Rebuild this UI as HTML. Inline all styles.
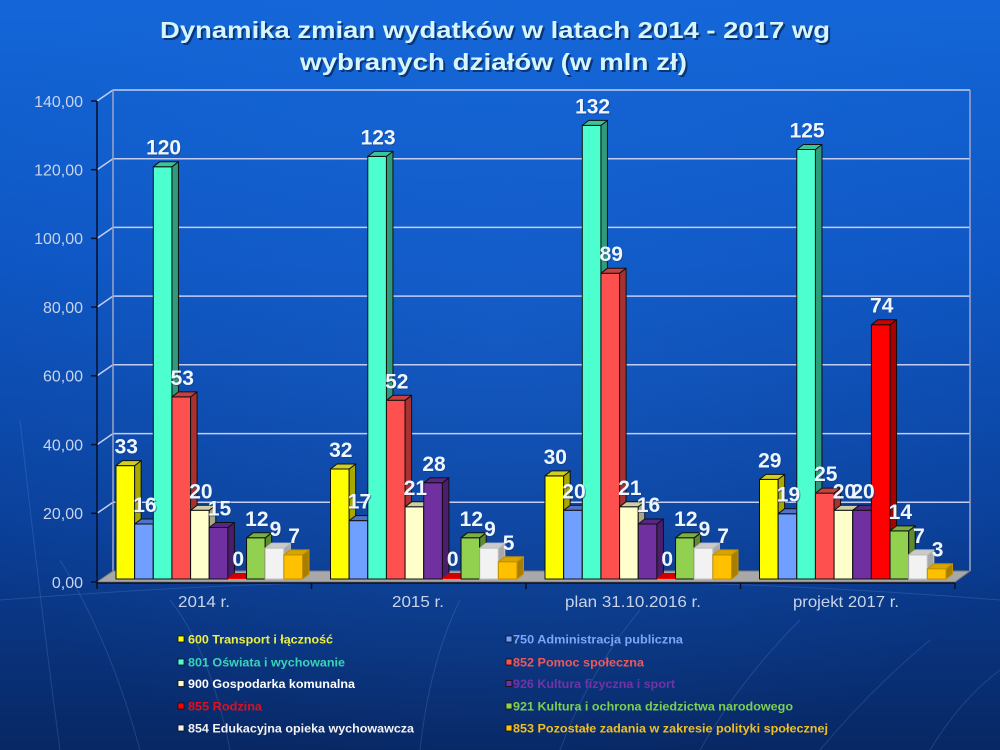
<!DOCTYPE html>
<html><head><meta charset="utf-8">
<style>
html,body{margin:0;padding:0;width:1000px;height:750px;overflow:hidden;background:#0a3c90;}
svg{display:block;}
</style></head>
<body>
<svg width="1000" height="750" viewBox="0 0 1000 750" xmlns="http://www.w3.org/2000/svg" font-family="'Liberation Sans', Arial, sans-serif">
<defs>
<linearGradient id="bg" x1="0" y1="0" x2="0" y2="1">
<stop offset="0" stop-color="#1466d8"/>
<stop offset="0.35" stop-color="#0d55c2"/>
<stop offset="0.7" stop-color="#0a3f98"/>
<stop offset="1" stop-color="#082763"/>
</linearGradient>
<radialGradient id="glow" cx="0.5" cy="0.45" r="0.6">
<stop offset="0" stop-color="#2a7ae8" stop-opacity="0.25"/>
<stop offset="1" stop-color="#2a7ae8" stop-opacity="0"/>
</radialGradient>
</defs>
<rect x="0" y="0" width="1000" height="750" fill="url(#bg)"/>
<rect x="0" y="0" width="1000" height="750" fill="url(#glow)"/>
<!-- decorative faint curves -->
<g fill="none" stroke="#8fb4ff" stroke-opacity="0.18" stroke-width="1">
<path d="M60 750 Q 40 600 20 420"/>
<path d="M140 750 Q 110 640 60 560"/>
<path d="M230 750 Q 210 650 170 600"/>
<path d="M420 750 Q 430 660 460 600"/>
<path d="M560 750 Q 590 670 640 610"/>
<path d="M700 750 Q 740 680 800 620"/>
<path d="M820 750 Q 870 690 930 640"/>
<path d="M930 750 Q 960 700 1000 670"/>
<path d="M0 600 Q 500 560 1000 600"/>
</g>

<!-- title -->
<g font-weight="bold" font-size="23">
<text x="162" y="40" textLength="670" lengthAdjust="spacingAndGlyphs" fill="#0a2a60" opacity="0.8">Dynamika zmian wydatków w latach 2014 - 2017 wg</text>
<text x="160" y="38" textLength="670" lengthAdjust="spacingAndGlyphs" fill="#d6f6ff">Dynamika zmian wydatków w latach 2014 - 2017 wg</text>
<text x="302" y="72" textLength="387" lengthAdjust="spacingAndGlyphs" fill="#0a2a60" opacity="0.8">wybranych działów (w mln zł)</text>
<text x="300" y="70" textLength="387" lengthAdjust="spacingAndGlyphs" fill="#d6f6ff">wybranych działów (w mln zł)</text>
</g>

<!-- walls / grid -->
<g stroke="#c4cdf2" stroke-width="1.5" fill="none">
<line x1="113" y1="90" x2="970" y2="90"/>
<line x1="113" y1="158.7" x2="970" y2="158.7"/>
<line x1="113" y1="227.4" x2="970" y2="227.4"/>
<line x1="113" y1="296.1" x2="970" y2="296.1"/>
<line x1="113" y1="364.8" x2="970" y2="364.8"/>
<line x1="113" y1="433.6" x2="970" y2="433.6"/>
<line x1="113" y1="502.3" x2="970" y2="502.3"/>
<line x1="97" y1="101" x2="113" y2="90"/>
<line x1="97" y1="169.7" x2="113" y2="158.7"/>
<line x1="97" y1="238.4" x2="113" y2="227.4"/>
<line x1="97" y1="307.1" x2="113" y2="296.1"/>
<line x1="97" y1="375.8" x2="113" y2="364.8"/>
<line x1="97" y1="444.6" x2="113" y2="433.6"/>
<line x1="97" y1="513.3" x2="113" y2="502.3"/>
</g>
<g stroke="#9aa6c8" stroke-width="1.5">
<line x1="113" y1="90" x2="113" y2="571"/>
<line x1="970" y1="90" x2="970" y2="571"/>
</g>
<!-- floor -->
<polygon points="97,582 955,582 970,571 113,571" fill="#a8a8a8" stroke="#7a7a7a" stroke-width="1"/>

<!-- axes -->
<g stroke="#0a0f25" stroke-width="1.5">
<line x1="97" y1="101" x2="97" y2="583"/>
<line x1="97" y1="583" x2="955" y2="583"/>
<line x1="91" y1="101" x2="97" y2="101"/>
<line x1="91" y1="169.7" x2="97" y2="169.7"/>
<line x1="91" y1="238.4" x2="97" y2="238.4"/>
<line x1="91" y1="307.1" x2="97" y2="307.1"/>
<line x1="91" y1="375.8" x2="97" y2="375.8"/>
<line x1="91" y1="444.6" x2="97" y2="444.6"/>
<line x1="91" y1="513.3" x2="97" y2="513.3"/>
<line x1="91" y1="582" x2="97" y2="582"/>
<line x1="97" y1="583" x2="97" y2="589"/>
<line x1="311.5" y1="583" x2="311.5" y2="589"/>
<line x1="526" y1="583" x2="526" y2="589"/>
<line x1="740.5" y1="583" x2="740.5" y2="589"/>
<line x1="955" y1="583" x2="955" y2="589"/>
</g>

<!-- y labels -->
<g font-size="16" fill="#c8d4ea" text-anchor="end">
<text x="83" y="107">140,00</text>
<text x="83" y="175.5">120,00</text>
<text x="83" y="244">100,00</text>
<text x="83" y="313">80,00</text>
<text x="83" y="381.5">60,00</text>
<text x="83" y="450.5">40,00</text>
<text x="83" y="519">20,00</text>
<text x="83" y="588">0,00</text>
</g>

<!-- category labels -->
<g font-size="16" fill="#c8d4ea">
<text x="178" y="607" textLength="52" lengthAdjust="spacingAndGlyphs">2014 r.</text>
<text x="392" y="607" textLength="52" lengthAdjust="spacingAndGlyphs">2015 r.</text>
<text x="565" y="607" textLength="136" lengthAdjust="spacingAndGlyphs">plan 31.10.2016 r.</text>
<text x="793" y="607" textLength="106" lengthAdjust="spacingAndGlyphs">projekt 2017 r.</text>
</g>

<!-- bars -->
<g stroke="#101010" stroke-width="1" stroke-linejoin="round">
<!-- 2014 -->
<g transform="translate(116,579)"><rect x="0" y="-113.4" width="18.65" height="113.4" fill="#ffff00"/><polygon points="18.65,0 25.15,-5 25.15,-118.4 18.65,-113.4" fill="#a8a800"/><polygon points="0,-113.4 6.5,-118.4 25.15,-118.4 18.65,-113.4" fill="#d0d020"/></g>
<g transform="translate(134.65,579)"><rect x="0" y="-55" width="18.65" height="55" fill="#6f9fff"/><polygon points="18.65,0 25.15,-5 25.15,-60 18.65,-55" fill="#3d5fb0"/><polygon points="0,-55 6.5,-60 25.15,-60 18.65,-55" fill="#5072c8"/></g>
<g transform="translate(153.3,579)"><rect x="0" y="-412.3" width="18.65" height="412.3" fill="#4dffcf"/><polygon points="18.65,0 25.15,-5 25.15,-417.3 18.65,-412.3" fill="#2f9a7c"/><polygon points="0,-412.3 6.5,-417.3 25.15,-417.3 18.65,-412.3" fill="#38c49c"/></g>
<g transform="translate(171.95,579)"><rect x="0" y="-182.1" width="18.65" height="182.1" fill="#ff5050"/><polygon points="18.65,0 25.15,-5 25.15,-187.1 18.65,-182.1" fill="#a83232"/><polygon points="0,-182.1 6.5,-187.1 25.15,-187.1 18.65,-182.1" fill="#c84040"/></g>
<g transform="translate(190.6,579)"><rect x="0" y="-68.7" width="18.65" height="68.7" fill="#ffffcc"/><polygon points="18.65,0 25.15,-5 25.15,-73.7 18.65,-68.7" fill="#aaa888"/><polygon points="0,-68.7 6.5,-73.7 25.15,-73.7 18.65,-68.7" fill="#d0cea4"/></g>
<g transform="translate(209.25,579)"><rect x="0" y="-51.5" width="18.65" height="51.5" fill="#7030a0"/><polygon points="18.65,0 25.15,-5 25.15,-56.5 18.65,-51.5" fill="#4a1e6c"/><polygon points="0,-51.5 6.5,-56.5 25.15,-56.5 18.65,-51.5" fill="#5a2686"/></g>
<g transform="translate(227.9,579)"><rect x="0" y="-1" width="18.65" height="1" fill="#ff0000" stroke="none"/><polygon points="0,-1 6.5,-6 25.15,-6 18.65,-1" fill="#d00000" stroke="none"/></g>
<g transform="translate(246.55,579)"><rect x="0" y="-41.2" width="18.65" height="41.2" fill="#92d050"/><polygon points="18.65,0 25.15,-5 25.15,-46.2 18.65,-41.2" fill="#5e8a32"/><polygon points="0,-41.2 6.5,-46.2 25.15,-46.2 18.65,-41.2" fill="#78ae42"/></g>
<g transform="translate(265.2,579)"><rect x="0" y="-30.9" width="18.65" height="30.9" fill="#f2f2f2" stroke="#c0c0c0"/><polygon points="18.65,0 25.15,-5 25.15,-35.9 18.65,-30.9" fill="#a8a8a8" stroke="#c0c0c0"/><polygon points="0,-30.9 6.5,-35.9 25.15,-35.9 18.65,-30.9" fill="#cacaca" stroke="#c0c0c0"/></g>
<g transform="translate(283.85,579)"><rect x="0" y="-24.1" width="18.65" height="24.1" fill="#ffc000" stroke="#c09000"/><polygon points="18.65,0 25.15,-5 25.15,-29.1 18.65,-24.1" fill="#a87e00" stroke="#c09000"/><polygon points="0,-24.1 6.5,-29.1 25.15,-29.1 18.65,-24.1" fill="#d8a400" stroke="#c09000"/></g>
<!-- 2015 -->
<g transform="translate(330.5,579)"><rect x="0" y="-110" width="18.65" height="110" fill="#ffff00"/><polygon points="18.65,0 25.15,-5 25.15,-115 18.65,-110" fill="#a8a800"/><polygon points="0,-110 6.5,-115 25.15,-115 18.65,-110" fill="#d0d020"/></g>
<g transform="translate(349.15,579)"><rect x="0" y="-58.4" width="18.65" height="58.4" fill="#6f9fff"/><polygon points="18.65,0 25.15,-5 25.15,-63.4 18.65,-58.4" fill="#3d5fb0"/><polygon points="0,-58.4 6.5,-63.4 25.15,-63.4 18.65,-58.4" fill="#5072c8"/></g>
<g transform="translate(367.8,579)"><rect x="0" y="-422.6" width="18.65" height="422.6" fill="#4dffcf"/><polygon points="18.65,0 25.15,-5 25.15,-427.6 18.65,-422.6" fill="#2f9a7c"/><polygon points="0,-422.6 6.5,-427.6 25.15,-427.6 18.65,-422.6" fill="#38c49c"/></g>
<g transform="translate(386.45,579)"><rect x="0" y="-178.7" width="18.65" height="178.7" fill="#ff5050"/><polygon points="18.65,0 25.15,-5 25.15,-183.7 18.65,-178.7" fill="#a83232"/><polygon points="0,-178.7 6.5,-183.7 25.15,-183.7 18.65,-178.7" fill="#c84040"/></g>
<g transform="translate(405.1,579)"><rect x="0" y="-72.2" width="18.65" height="72.2" fill="#ffffcc"/><polygon points="18.65,0 25.15,-5 25.15,-77.2 18.65,-72.2" fill="#aaa888"/><polygon points="0,-72.2 6.5,-77.2 25.15,-77.2 18.65,-72.2" fill="#d0cea4"/></g>
<g transform="translate(423.75,579)"><rect x="0" y="-96.2" width="18.65" height="96.2" fill="#7030a0"/><polygon points="18.65,0 25.15,-5 25.15,-101.2 18.65,-96.2" fill="#4a1e6c"/><polygon points="0,-96.2 6.5,-101.2 25.15,-101.2 18.65,-96.2" fill="#5a2686"/></g>
<g transform="translate(442.4,579)"><rect x="0" y="-1" width="18.65" height="1" fill="#ff0000" stroke="none"/><polygon points="0,-1 6.5,-6 25.15,-6 18.65,-1" fill="#d00000" stroke="none"/></g>
<g transform="translate(461.05,579)"><rect x="0" y="-41.2" width="18.65" height="41.2" fill="#92d050"/><polygon points="18.65,0 25.15,-5 25.15,-46.2 18.65,-41.2" fill="#5e8a32"/><polygon points="0,-41.2 6.5,-46.2 25.15,-46.2 18.65,-41.2" fill="#78ae42"/></g>
<g transform="translate(479.7,579)"><rect x="0" y="-30.9" width="18.65" height="30.9" fill="#f2f2f2" stroke="#c0c0c0"/><polygon points="18.65,0 25.15,-5 25.15,-35.9 18.65,-30.9" fill="#a8a8a8" stroke="#c0c0c0"/><polygon points="0,-30.9 6.5,-35.9 25.15,-35.9 18.65,-30.9" fill="#cacaca" stroke="#c0c0c0"/></g>
<g transform="translate(498.35,579)"><rect x="0" y="-17.2" width="18.65" height="17.2" fill="#ffc000" stroke="#c09000"/><polygon points="18.65,0 25.15,-5 25.15,-22.2 18.65,-17.2" fill="#a87e00" stroke="#c09000"/><polygon points="0,-17.2 6.5,-22.2 25.15,-22.2 18.65,-17.2" fill="#d8a400" stroke="#c09000"/></g>
<!-- 2016 -->
<g transform="translate(545,579)"><rect x="0" y="-103.1" width="18.65" height="103.1" fill="#ffff00"/><polygon points="18.65,0 25.15,-5 25.15,-108.1 18.65,-103.1" fill="#a8a800"/><polygon points="0,-103.1 6.5,-108.1 25.15,-108.1 18.65,-103.1" fill="#d0d020"/></g>
<g transform="translate(563.65,579)"><rect x="0" y="-68.7" width="18.65" height="68.7" fill="#6f9fff"/><polygon points="18.65,0 25.15,-5 25.15,-73.7 18.65,-68.7" fill="#3d5fb0"/><polygon points="0,-68.7 6.5,-73.7 25.15,-73.7 18.65,-68.7" fill="#5072c8"/></g>
<g transform="translate(582.3,579)"><rect x="0" y="-453.6" width="18.65" height="453.6" fill="#4dffcf"/><polygon points="18.65,0 25.15,-5 25.15,-458.6 18.65,-453.6" fill="#2f9a7c"/><polygon points="0,-453.6 6.5,-458.6 25.15,-458.6 18.65,-453.6" fill="#38c49c"/></g>
<g transform="translate(600.95,579)"><rect x="0" y="-305.8" width="18.65" height="305.8" fill="#ff5050"/><polygon points="18.65,0 25.15,-5 25.15,-310.8 18.65,-305.8" fill="#a83232"/><polygon points="0,-305.8 6.5,-310.8 25.15,-310.8 18.65,-305.8" fill="#c84040"/></g>
<g transform="translate(619.6,579)"><rect x="0" y="-72.2" width="18.65" height="72.2" fill="#ffffcc"/><polygon points="18.65,0 25.15,-5 25.15,-77.2 18.65,-72.2" fill="#aaa888"/><polygon points="0,-72.2 6.5,-77.2 25.15,-77.2 18.65,-72.2" fill="#d0cea4"/></g>
<g transform="translate(638.25,579)"><rect x="0" y="-55" width="18.65" height="55" fill="#7030a0"/><polygon points="18.65,0 25.15,-5 25.15,-60 18.65,-55" fill="#4a1e6c"/><polygon points="0,-55 6.5,-60 25.15,-60 18.65,-55" fill="#5a2686"/></g>
<g transform="translate(656.9,579)"><rect x="0" y="-1" width="18.65" height="1" fill="#ff0000" stroke="none"/><polygon points="0,-1 6.5,-6 25.15,-6 18.65,-1" fill="#d00000" stroke="none"/></g>
<g transform="translate(675.55,579)"><rect x="0" y="-41.2" width="18.65" height="41.2" fill="#92d050"/><polygon points="18.65,0 25.15,-5 25.15,-46.2 18.65,-41.2" fill="#5e8a32"/><polygon points="0,-41.2 6.5,-46.2 25.15,-46.2 18.65,-41.2" fill="#78ae42"/></g>
<g transform="translate(694.2,579)"><rect x="0" y="-30.9" width="18.65" height="30.9" fill="#f2f2f2" stroke="#c0c0c0"/><polygon points="18.65,0 25.15,-5 25.15,-35.9 18.65,-30.9" fill="#a8a8a8" stroke="#c0c0c0"/><polygon points="0,-30.9 6.5,-35.9 25.15,-35.9 18.65,-30.9" fill="#cacaca" stroke="#c0c0c0"/></g>
<g transform="translate(712.85,579)"><rect x="0" y="-24.1" width="18.65" height="24.1" fill="#ffc000" stroke="#c09000"/><polygon points="18.65,0 25.15,-5 25.15,-29.1 18.65,-24.1" fill="#a87e00" stroke="#c09000"/><polygon points="0,-24.1 6.5,-29.1 25.15,-29.1 18.65,-24.1" fill="#d8a400" stroke="#c09000"/></g>
<!-- 2017 -->
<g transform="translate(759.5,579)"><rect x="0" y="-99.6" width="18.65" height="99.6" fill="#ffff00"/><polygon points="18.65,0 25.15,-5 25.15,-104.6 18.65,-99.6" fill="#a8a800"/><polygon points="0,-99.6 6.5,-104.6 25.15,-104.6 18.65,-99.6" fill="#d0d020"/></g>
<g transform="translate(778.15,579)"><rect x="0" y="-65.3" width="18.65" height="65.3" fill="#6f9fff"/><polygon points="18.65,0 25.15,-5 25.15,-70.3 18.65,-65.3" fill="#3d5fb0"/><polygon points="0,-65.3 6.5,-70.3 25.15,-70.3 18.65,-65.3" fill="#5072c8"/></g>
<g transform="translate(796.8,579)"><rect x="0" y="-429.5" width="18.65" height="429.5" fill="#4dffcf"/><polygon points="18.65,0 25.15,-5 25.15,-434.5 18.65,-429.5" fill="#2f9a7c"/><polygon points="0,-429.5 6.5,-434.5 25.15,-434.5 18.65,-429.5" fill="#38c49c"/></g>
<g transform="translate(815.45,579)"><rect x="0" y="-85.9" width="18.65" height="85.9" fill="#ff5050"/><polygon points="18.65,0 25.15,-5 25.15,-90.9 18.65,-85.9" fill="#a83232"/><polygon points="0,-85.9 6.5,-90.9 25.15,-90.9 18.65,-85.9" fill="#c84040"/></g>
<g transform="translate(834.1,579)"><rect x="0" y="-68.7" width="18.65" height="68.7" fill="#ffffcc"/><polygon points="18.65,0 25.15,-5 25.15,-73.7 18.65,-68.7" fill="#aaa888"/><polygon points="0,-68.7 6.5,-73.7 25.15,-73.7 18.65,-68.7" fill="#d0cea4"/></g>
<g transform="translate(852.75,579)"><rect x="0" y="-68.7" width="18.65" height="68.7" fill="#7030a0"/><polygon points="18.65,0 25.15,-5 25.15,-73.7 18.65,-68.7" fill="#4a1e6c"/><polygon points="0,-68.7 6.5,-73.7 25.15,-73.7 18.65,-68.7" fill="#5a2686"/></g>
<g transform="translate(871.4,579)"><rect x="0" y="-254.3" width="18.65" height="254.3" fill="#ff0000"/><polygon points="18.65,0 25.15,-5 25.15,-259.3 18.65,-254.3" fill="#a80000"/><polygon points="0,-254.3 6.5,-259.3 25.15,-259.3 18.65,-254.3" fill="#d00000"/></g>
<g transform="translate(890.05,579)"><rect x="0" y="-48.1" width="18.65" height="48.1" fill="#92d050"/><polygon points="18.65,0 25.15,-5 25.15,-53.1 18.65,-48.1" fill="#5e8a32"/><polygon points="0,-48.1 6.5,-53.1 25.15,-53.1 18.65,-48.1" fill="#78ae42"/></g>
<g transform="translate(908.7,579)"><rect x="0" y="-24.1" width="18.65" height="24.1" fill="#f2f2f2" stroke="#c0c0c0"/><polygon points="18.65,0 25.15,-5 25.15,-29.1 18.65,-24.1" fill="#a8a8a8" stroke="#c0c0c0"/><polygon points="0,-24.1 6.5,-29.1 25.15,-29.1 18.65,-24.1" fill="#cacaca" stroke="#c0c0c0"/></g>
<g transform="translate(927.35,579)"><rect x="0" y="-10.3" width="18.65" height="10.3" fill="#ffc000" stroke="#c09000"/><polygon points="18.65,0 25.15,-5 25.15,-15.3 18.65,-10.3" fill="#a87e00" stroke="#c09000"/><polygon points="0,-10.3 6.5,-15.3 25.15,-15.3 18.65,-10.3" fill="#d8a400" stroke="#c09000"/></g>
</g>

<!-- value labels -->
<g font-size="21" font-weight="bold" text-anchor="middle">
<g fill="#1a3a78" opacity="0.55" transform="translate(1,1)">
<text x="126.3" y="453.6">33</text><text x="144.95" y="512">16</text><text x="163.6" y="154.7">120</text><text x="182.25" y="384.9">53</text><text x="200.9" y="498.3">20</text><text x="219.55" y="515.5">15</text><text x="238.2" y="566">0</text><text x="256.85" y="525.8">12</text><text x="275.5" y="536.1">9</text><text x="294.15" y="542.9">7</text>
<text x="340.8" y="457">32</text><text x="359.45" y="508.6">17</text><text x="378.1" y="144.4">123</text><text x="396.75" y="388.3">52</text><text x="415.4" y="494.8">21</text><text x="434.05" y="470.8">28</text><text x="452.7" y="566">0</text><text x="471.35" y="525.8">12</text><text x="490" y="536.1">9</text><text x="508.65" y="549.8">5</text>
<text x="555.3" y="463.9">30</text><text x="573.95" y="498.3">20</text><text x="592.6" y="113.4">132</text><text x="611.25" y="261.2">89</text><text x="629.9" y="494.8">21</text><text x="648.55" y="512">16</text><text x="667.2" y="566">0</text><text x="685.85" y="525.8">12</text><text x="704.5" y="536.1">9</text><text x="723.15" y="542.9">7</text>
<text x="769.8" y="467.4">29</text><text x="788.45" y="501.7">19</text><text x="807.1" y="137.5">125</text><text x="825.75" y="481.1">25</text><text x="844.4" y="498.3">20</text><text x="863.05" y="498.3">20</text><text x="881.7" y="312.7">74</text><text x="900.35" y="518.9">14</text><text x="919" y="542.9">7</text><text x="937.65" y="556.7">3</text>
</g>
<g fill="#eef7ff">
<text x="126.3" y="453.6">33</text><text x="144.95" y="512">16</text><text x="163.6" y="154.7">120</text><text x="182.25" y="384.9">53</text><text x="200.9" y="498.3">20</text><text x="219.55" y="515.5">15</text><text x="238.2" y="566">0</text><text x="256.85" y="525.8">12</text><text x="275.5" y="536.1">9</text><text x="294.15" y="542.9">7</text>
<text x="340.8" y="457">32</text><text x="359.45" y="508.6">17</text><text x="378.1" y="144.4">123</text><text x="396.75" y="388.3">52</text><text x="415.4" y="494.8">21</text><text x="434.05" y="470.8">28</text><text x="452.7" y="566">0</text><text x="471.35" y="525.8">12</text><text x="490" y="536.1">9</text><text x="508.65" y="549.8">5</text>
<text x="555.3" y="463.9">30</text><text x="573.95" y="498.3">20</text><text x="592.6" y="113.4">132</text><text x="611.25" y="261.2">89</text><text x="629.9" y="494.8">21</text><text x="648.55" y="512">16</text><text x="667.2" y="566">0</text><text x="685.85" y="525.8">12</text><text x="704.5" y="536.1">9</text><text x="723.15" y="542.9">7</text>
<text x="769.8" y="467.4">29</text><text x="788.45" y="501.7">19</text><text x="807.1" y="137.5">125</text><text x="825.75" y="481.1">25</text><text x="844.4" y="498.3">20</text><text x="863.05" y="498.3">20</text><text x="881.7" y="312.7">74</text><text x="900.35" y="518.9">14</text><text x="919" y="542.9">7</text><text x="937.65" y="556.7">3</text>
</g>
</g>

<!-- legend -->
<g stroke="#101010" stroke-width="0.8">
<rect x="178" y="636" width="6" height="6" fill="#ffff00"/>
<rect x="178" y="659" width="6" height="6" fill="#4dffcf"/>
<rect x="178" y="680.5" width="6" height="6" fill="#ffffcc"/>
<rect x="178" y="703" width="6" height="6" fill="#ff0000"/>
<rect x="178" y="725" width="6" height="6" fill="#f2f2f2"/>
<rect x="506" y="636" width="6" height="6" fill="#6f9fff"/>
<rect x="506" y="659" width="6" height="6" fill="#ff5050"/>
<rect x="506" y="680.5" width="6" height="6" fill="#7030a0"/>
<rect x="506" y="703" width="6" height="6" fill="#92d050"/>
<rect x="506" y="725" width="6" height="6" fill="#ffc000"/>
</g>
<g font-size="12" font-weight="bold">
<text x="188" y="643.5" textLength="145" lengthAdjust="spacingAndGlyphs" fill="#eef040">600 Transport i łączność</text>
<text x="188" y="666.5" textLength="157" lengthAdjust="spacingAndGlyphs" fill="#3ad4b8">801 Oświata i wychowanie</text>
<text x="188" y="688" textLength="167" lengthAdjust="spacingAndGlyphs" fill="#ffffff">900 Gospodarka komunalna</text>
<text x="188" y="710.5" textLength="74" lengthAdjust="spacingAndGlyphs" fill="#e0101c">855 Rodzina</text>
<text x="188" y="732.5" textLength="226" lengthAdjust="spacingAndGlyphs" fill="#f2f2f2">854 Edukacyjna opieka wychowawcza</text>
<text x="513" y="643.5" textLength="170" lengthAdjust="spacingAndGlyphs" fill="#7aa8f8">750 Administracja publiczna</text>
<text x="513" y="666.5" textLength="131" lengthAdjust="spacingAndGlyphs" fill="#f05858">852 Pomoc społeczna</text>
<text x="513" y="688" textLength="162" lengthAdjust="spacingAndGlyphs" fill="#7232a8">926 Kultura fizyczna i sport</text>
<text x="513" y="710.5" textLength="280" lengthAdjust="spacingAndGlyphs" fill="#7cd050">921 Kultura i ochrona dziedzictwa narodowego</text>
<text x="513" y="732.5" textLength="315" lengthAdjust="spacingAndGlyphs" fill="#f0c020">853 Pozostałe zadania w zakresie polityki społecznej</text>
</g>
</svg>
</body></html>
